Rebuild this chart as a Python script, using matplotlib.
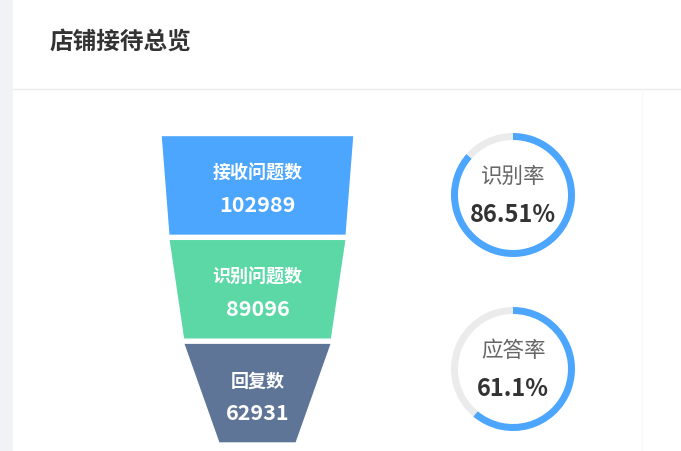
import matplotlib
matplotlib.use("Agg")
import matplotlib.pyplot as plt
from matplotlib.patches import Polygon, Rectangle

plt.rcParams['font.family'] = ['Noto Sans CJK SC', 'DejaVu Sans']

# ---- data ----
title = "店铺接待总览"
funnel_labels = ["接收问题数", "识别问题数", "回复数"]
funnel_values = [102989, 89096, 62931]
funnel_colors = ["#4ca6fe", "#5bd8a6", "#5f7598"]
rate_labels = ["识别率", "应答率"]
rate_values = [86.51, 61.1]
rate_texts = ["86.51%", "61.1%"]

W, H = 681, 451
fig = plt.figure(figsize=(W / 100, H / 100), dpi=100)
ax = fig.add_axes([0, 0, 1, 1])
ax.set_xlim(0, W)
ax.set_ylim(H, 0)
ax.axis("off")

# background elements
ax.add_patch(Rectangle((0, 0), 12.7, H, color="#f0f2f5", lw=0))
ax.plot([12.7, W], [89, 89], color="#ebebeb", lw=1)
ax.plot([641.7, 641.7], [89, H], color="#f8f8f8", lw=0.8)
ax.text(50, 42, title, fontsize=17, fontweight="bold", color="#333333",
        ha="left", va="center")

# funnel (echarts-like: width scales between 40% and 100% of max size)
cx = 257.5
max_w = 193
min_ratio = 0.4
vmax = max(funnel_values)
def fw(v):
    return max_w * (min_ratio + (1 - min_ratio) * v / vmax)

top, bottom, gap = 135.5, 443, 4
n = len(funnel_values)
ph = (bottom - top - gap * (n - 1)) / n
for i, (lab, v, c) in enumerate(zip(funnel_labels, funnel_values, funnel_colors)):
    y0 = top + i * (ph + gap)
    y1 = y0 + ph
    wt = fw(v)
    wb = fw(funnel_values[i + 1]) if i + 1 < n else fw(0)
    poly = Polygon([(cx - wt / 2, y0), (cx + wt / 2, y0),
                    (cx + wb / 2, y1), (cx - wb / 2, y1)],
                   closed=True, facecolor=c, edgecolor="white", lw=1)
    ax.add_patch(poly)
    ym = (y0 + y1) / 2
    ax.text(cx, ym - 12, lab, fontsize=13, fontweight="bold", color="white",
            ha="center", va="center")
    ax.text(cx, ym + 20, f"{v}", fontsize=15.5, fontweight="bold", color="white",
            ha="center", va="center")

# rate rings
ring_cy = [195, 369]
ring_cx = 513
R = 62
for lab, val, txt, cy in zip(rate_labels, rate_values, rate_texts, ring_cy):
    rax = fig.add_axes([(ring_cx - R) / W, (H - cy - R) / H, 2 * R / W, 2 * R / H])
    rax.pie([val, 100 - val], colors=["#4ca6fe", "#ebebeb"], startangle=90,
            counterclock=False, radius=1,
            wedgeprops=dict(width=7 / R, edgecolor="none"))
    rax.set_xlim(-1, 1)
    rax.set_ylim(-1, 1)
    rax.axis("off")
    ax.text(ring_cx, cy - 18, lab, fontsize=15.5, color="#666666",
            ha="center", va="center")
    ax.text(ring_cx, cy + 19.5, txt, fontsize=17, fontweight="bold",
            color="#333333", ha="center", va="center")

fig.savefig("out.png", dpi=100)
